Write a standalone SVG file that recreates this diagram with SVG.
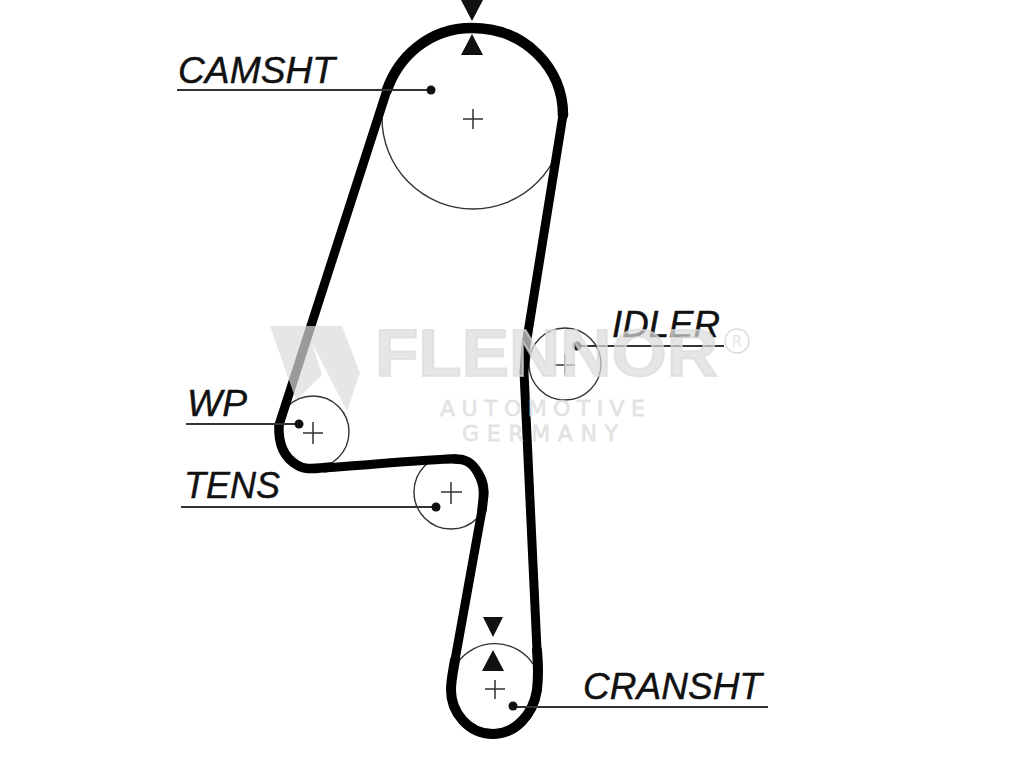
<svg xmlns="http://www.w3.org/2000/svg" width="1024" height="768" viewBox="0 0 1024 768">
<style>
.p{fill:none;stroke:#333;stroke-width:1.4}
.c{fill:none;stroke:#333;stroke-width:1.5}
.l{fill:none;stroke:#333;stroke-width:2}
.d{fill:#111}
.b{fill:none;stroke:#000;stroke-linecap:round;stroke-linejoin:round}
.t{font-family:"Liberation Sans",Arial,sans-serif;font-style:italic;font-size:36px;fill:#111;stroke:#111;stroke-width:.4}
.w{fill:#dbdbdb;fill-opacity:.7;font-family:"DejaVu Sans",sans-serif}
.s{stroke:#dbdbdb;stroke-opacity:.7}
</style>
<rect width="1024" height="768" fill="#fff"/>
<g id="camshaft"><circle class="p" cx="473" cy="118" r="91"/><path class="c" d="M463 119H483M473 109V129"/><path class="d" d="M461 0H483L472 21ZM461 55H483L472 34Z"/></g>
<g id="idler"><circle class="p" cx="565" cy="364" r="36"/><path class="c" d="M554 365H575M565 354V375"/></g>
<g id="wp"><circle class="p" cx="313" cy="432" r="36"/><path class="c" d="M303 433H323M313 422V444"/></g>
<g id="tens"><circle class="p" cx="451" cy="492" r="37"/><path class="c" d="M441 492H462M451 482V504"/></g>
<g id="crankshaft"><path class="p" d="M458 662A46 46 0 0 1 533 664"/><path class="c" d="M485 689H505M495 680V699"/><path class="d" d="M483 617H503L493 637ZM482 671H504L493 650Z"/></g>
<g id="connectors">
<path id="belt" class="b" stroke-width="9" d="M387 90L279 425M563 115L526 345L524 372L537 650M482 510L455 660M325 468C380 464 430 459 455 459"/>
<path class="b" stroke-width="10.5" d="M387 90C398 58 428 28 472 28C525 28 563 68 563 115"/>
<path class="b" stroke-width="10" d="M537 650C538 665 539 672 537 690C533 715 515 734 493 734C468 734 451 712 451 690C451 680 453 672 455 660"/>
<path class="b" stroke-width="9.5" d="M482 510C484 495 485 485 478 473C472 462 465 459 455 459"/>
<path class="b" stroke-width="9.5" d="M330 467C310 469 305 470 297 465C285 458 278 445 279 425"/>
<path class="l" d="M177 90H431M577 346H724M186 424H299M181 507H436M513 707H768"/>
<circle class="d" cx="431" cy="90" r="4.5"/><circle class="d" cx="577" cy="346" r="4.5"/><circle class="d" cx="299" cy="424" r="4.5"/><circle class="d" cx="436" cy="507" r="4.5"/><circle class="d" cx="513" cy="706" r="4.5"/>
</g>
<g id="labels">
<text class="t" x="178" y="83" textLength="157" lengthAdjust="spacingAndGlyphs">CAMSHT</text>
<text class="t" x="612" y="337" textLength="108" lengthAdjust="spacingAndGlyphs">IDLER</text>
<text class="t" x="187" y="416" textLength="60" lengthAdjust="spacingAndGlyphs">WP</text>
<text class="t" x="184" y="498" textLength="96" lengthAdjust="spacingAndGlyphs">TENS</text>
<text class="t" x="583" y="699" textLength="179" lengthAdjust="spacingAndGlyphs">CRANSHT</text>
</g>
<g id="watermark">
<path class="w" d="M270 326H342L360 373L347 411L312 343L322 375L296 400Z"/>
<text class="w s" x="375" y="376" font-size="66" font-weight="700" stroke-width="2" style="font-family:'Liberation Sans',sans-serif" textLength="343" lengthAdjust="spacingAndGlyphs">FLENNOR</text>
<text class="w s" x="440" y="416" font-size="22" stroke-width=".8" textLength="205" lengthAdjust="spacing">AUTOMOTIVE</text>
<text class="w s" x="462" y="441" font-size="22" stroke-width=".8" textLength="156" lengthAdjust="spacing">GERMANY</text>
<circle cx="737" cy="341" r="12" fill="none" stroke="#dbdbdb" stroke-width="1.5"/>
<text class="w" x="737" y="347" font-size="15" text-anchor="middle">R</text>
</g>
</svg>
